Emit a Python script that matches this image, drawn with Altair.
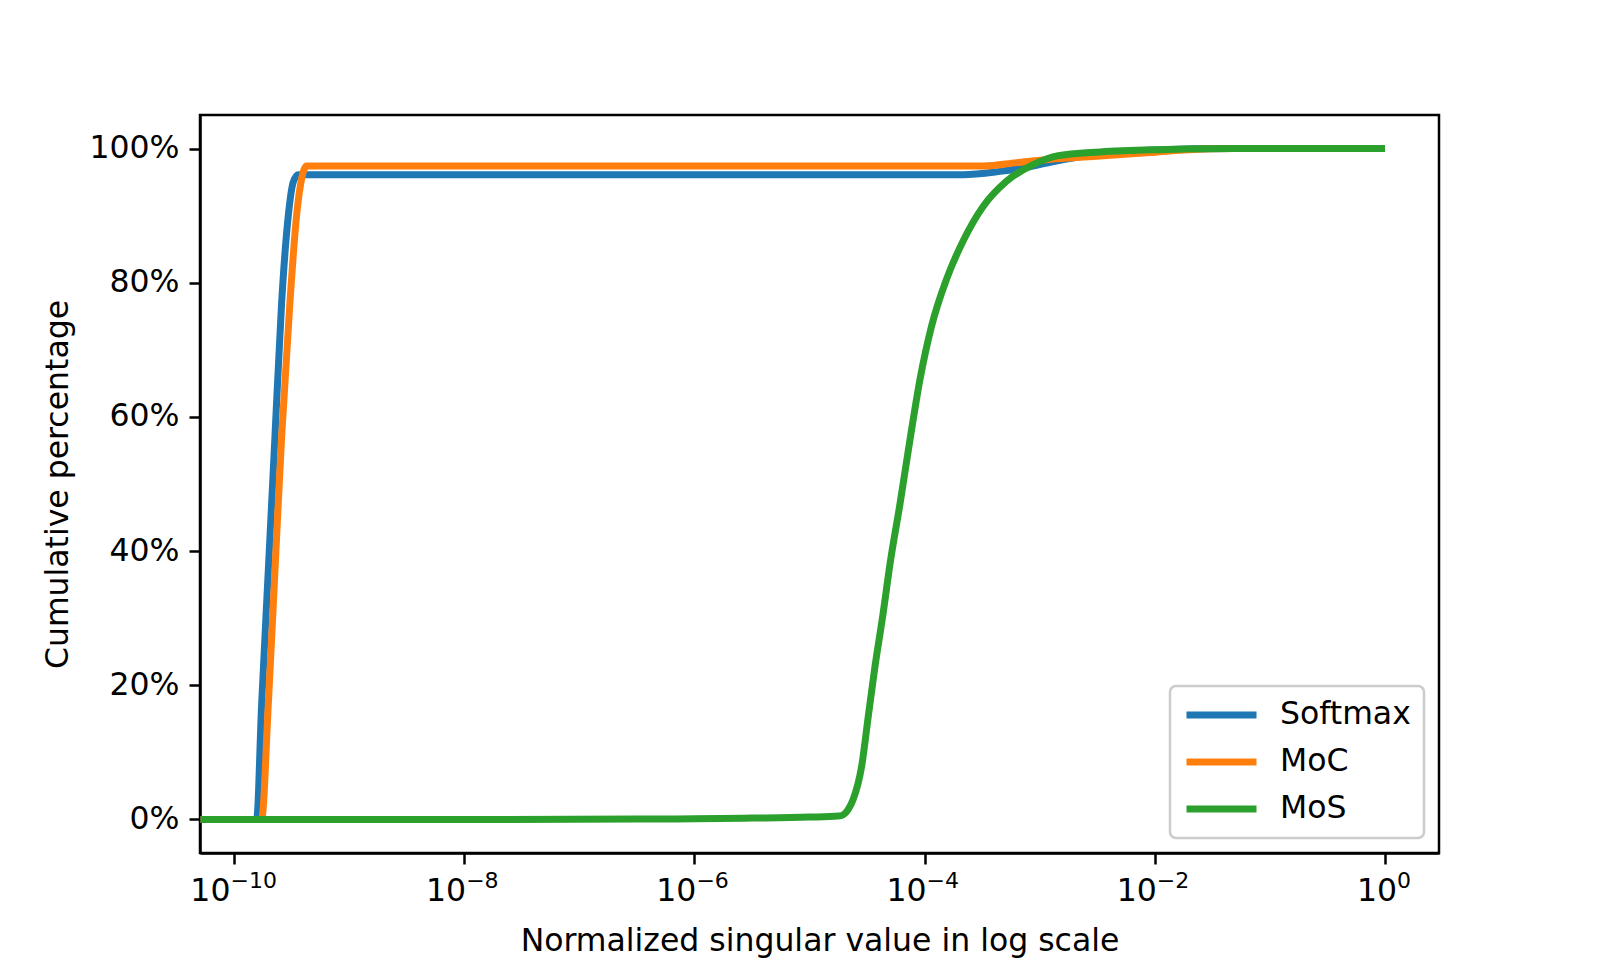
import altair as alt
import pandas as pd

# series
series_names = ["Softmax", "MoC", "MoS"]
series_colors = ["#1f77b4", "#ff7f0e", "#2ca02c"]

# log10 of the normalized singular value, and cumulative percentage
softmax_log_sv = [-10.29, -9.803, -9.76, -9.702, -9.644, -9.586, -9.528, -9.485, -9.441,
                  -3.67, -3.345, -3.11, -2.9, -2.5, -2.0, -1.3, 0.0]
softmax_pct = [0, 0, 17, 37, 57, 77, 90, 95, 96.1,
               96.1, 96.6, 97.2, 98.0, 99.2, 99.8, 100, 100]

moc_log_sv = [-10.29, -9.76, -9.702, -9.644, -9.586, -9.514, -9.456, -9.412, -9.369,
              -3.49, -3.2, -2.91, -2.476, -2.04, -1.75, -1.3, 0.0]
moc_pct = [0, 0, 17, 37, 57, 77, 90, 95.5, 97.4,
           97.4, 97.9, 98.4, 98.9, 99.4, 99.8, 100, 100]

mos_log_sv = [-10.29, -8.0, -6.5, -6.0, -5.5, -5.0, -4.75, -4.706, -4.663, -4.62,
              -4.547, -4.489, -4.431, -4.364, -4.295, -4.214, -4.127, -4.04, -3.94,
              -3.81, -3.66, -3.49, -3.29, -3.056, -2.85, -2.476, -1.9, -1.32, 0.0]
mos_pct = [0, 0, 0.05, 0.1, 0.2, 0.35, 0.5, 0.7, 1.5, 3,
           7.9, 15.4, 22.8, 30.3, 38.7, 47, 56.6, 65.6, 73.5,
           80.5, 86.4, 91.4, 95.1, 97.6, 98.9, 99.5, 99.85, 100, 100]

# axis ticks: base "10" and the exponent drawn as a raised, smaller label
x_tick_exponents = [-10, -8, -6, -4, -2, 0]
x_tick_exp_labels = ["−10", "−8", "−6", "−4", "−2", "0"]
y_ticks = [0, 20, 40, 60, 80, 100]

rows = []
for name, xs, ys in [("Softmax", softmax_log_sv, softmax_pct),
                     ("MoC", moc_log_sv, moc_pct),
                     ("MoS", mos_log_sv, mos_pct)]:
    for i, (lx, p) in enumerate(zip(xs, ys)):
        rows.append({"series": name, "sv": 10.0 ** lx, "pct": p, "idx": i})
df = pd.DataFrame(rows)

exp_label_expr = " : ".join(
    f"round(log(datum.value) / LN10) == {e} ? '{lab}'"
    for e, lab in zip(x_tick_exponents, x_tick_exp_labels)
) + " : ''"

# shift so that "10" + exponent is centred on the tick
label_shift = {"condition": [{"test": "datum.value < 1e-9", "value": -4},
                             {"test": "datum.value > 0.1", "value": 11.5}],
               "value": 1.5}

FONT = "DejaVu Sans"
FS = 31.5
x_values = [10.0 ** e for e in x_tick_exponents]
x_scale = alt.Scale(type="log", domain=[10 ** -10.295, 10 ** 0.469], nice=False)

main_x_axis = alt.Axis(values=x_values, labelExpr="'10'", orient="bottom",
                       title="Normalized singular value in log scale",
                       labelFlush=False, labelOverlap=False, labelAlign="right",
                       labelOffset=label_shift, labelPadding=11, titlePadding=19)
exp_x_axis = alt.Axis(values=x_values, labelExpr=exp_label_expr, orient="bottom",
                      title=None, domain=False, tickOpacity=0,
                      labelFlush=False, labelOverlap=False, labelAlign="left",
                      labelOffset=label_shift, labelPadding=6, labelFontSize=22)

y_enc = alt.Y("pct:Q",
              scale=alt.Scale(domain=[-5, 105], nice=False, zero=False),
              axis=alt.Axis(values=y_ticks, labelExpr="datum.value + '%'",
                            title="Cumulative percentage",
                            labelPadding=10, titlePadding=14))
color_enc = alt.Color("series:N",
                      scale=alt.Scale(domain=series_names, range=series_colors),
                      legend=alt.Legend(orient="bottom-right", offset=15, title=None,
                                        symbolType="stroke", symbolStrokeWidth=7,
                                        symbolSize=4900, labelOffset=20,
                                        padding=13, rowPadding=15, clipHeight=32))

axes = [main_x_axis, None, exp_x_axis]
layers = []
for name, ax in zip(series_names, axes):
    layers.append(
        alt.Chart(df).transform_filter(alt.datum.series == name).mark_line(
            strokeWidth=7, interpolate="monotone", clip=True, strokeJoin="round"
        ).encode(
            x=alt.X("sv:Q", scale=x_scale, axis=ax),
            y=y_enc,
            color=color_enc,
            order="idx:Q",
        )
    )

chart = alt.layer(*layers).resolve_axis(x="independent").properties(
    width=1239, height=738,
    autosize=alt.AutoSizeParams(type="none"),
    padding={"left": 192, "top": 107, "right": 145, "bottom": 105},
).configure_view(
    stroke="black", strokeWidth=2.5
).configure_axis(
    grid=False, domainColor="black", domainWidth=2.5,
    tickColor="black", tickWidth=2.5, tickSize=11,
    labelFont=FONT, labelFontSize=FS, labelColor="black",
    titleFont=FONT, titleFontSize=FS, titleColor="black", titleFontWeight="normal",
).configure_legend(
    labelFont=FONT, labelFontSize=FS, labelColor="black",
    strokeColor="#cccccc", fillColor="white", cornerRadius=6, strokeWidth=2.5,
)

chart.save("out.html", embed_options={"renderer": "svg", "actions": False})
